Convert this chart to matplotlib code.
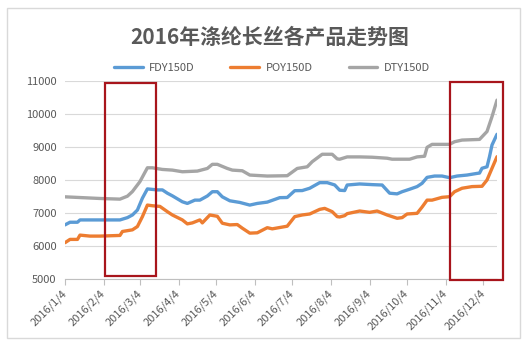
import numpy as np
import pandas as pd
import matplotlib
matplotlib.use("Agg")
import matplotlib.pyplot as plt
from matplotlib.patches import Rectangle

plt.rcParams["font.family"] = ["Noto Sans CJK SC", "DejaVu Sans"]

START = pd.Timestamp("2016-01-04")
END_DAY = 346

# prices (yuan/t), sampled at day offsets from 2016-01-04
fdy_days = [0, 4, 10, 12, 44, 50, 54, 58, 62, 66, 74, 78, 82, 86, 94, 98, 104, 108,
            114, 118, 122, 126, 132, 140, 148, 154, 162, 172, 178, 184, 190, 196,
            204, 210, 216, 220, 224, 226, 236, 246, 254, 260, 266, 270, 276, 282,
            286, 290, 296, 302, 308, 314, 322, 330, 332, 334, 338, 340, 342, 346]
fdy_vals = [6640, 6720, 6720, 6790, 6790, 6860, 6940, 7090, 7450, 7730, 7700, 7700,
            7600, 7520, 7340, 7290, 7390, 7390, 7515, 7645, 7645, 7490, 7370, 7320,
            7240, 7290, 7330, 7465, 7470, 7676, 7680, 7750, 7920, 7920, 7850, 7690,
            7680, 7848, 7880, 7860, 7848, 7600, 7580, 7645, 7720, 7800, 7900, 8080,
            8120, 8120, 8070, 8120, 8150, 8200, 8210, 8355, 8400, 8706, 9060, 9385]

poy_days = [0, 4, 10, 12, 20, 28, 44, 46, 54, 58, 62, 66, 70, 76, 82, 86, 94, 98,
            102, 108, 110, 116, 122, 126, 132, 138, 142, 148, 154, 162, 166, 172,
            178, 184, 190, 196, 204, 208, 214, 218, 220, 224, 226, 236, 244, 250,
            258, 266, 270, 274, 282, 286, 290, 294, 302, 308, 312, 318, 326, 334,
            338, 342, 346]
poy_vals = [6100, 6200, 6200, 6330, 6300, 6300, 6320, 6440, 6490, 6590, 6890, 7240,
            7220, 7200, 7040, 6940, 6790, 6670, 6700, 6790, 6700, 6940, 6900, 6690,
            6640, 6650, 6540, 6390, 6400, 6555, 6520, 6560, 6600, 6890, 6940, 6970,
            7110, 7140, 7040, 6890, 6880, 6920, 6980, 7060, 7020, 7060, 6940, 6840,
            6860, 6970, 6990, 7180, 7390, 7390, 7475, 7494, 7645, 7750, 7800, 7810,
            8000, 8355, 8706]

dty_days = [0, 28, 44, 50, 54, 60, 66, 70, 78, 86, 94, 106, 114, 118, 122, 130, 134,
            142, 148, 162, 178, 186, 194, 198, 206, 214, 218, 220, 226, 236, 246,
            258, 262, 276, 282, 288, 290, 294, 308, 312, 318, 332, 334, 338, 342, 346]
dty_vals = [7490, 7440, 7420, 7510, 7650, 7950, 8370, 8370, 8320, 8300, 8250, 8270,
            8350, 8475, 8475, 8350, 8300, 8280, 8150, 8120, 8130, 8350, 8400, 8555,
            8780, 8780, 8640, 8630, 8700, 8700, 8690, 8660, 8630, 8630, 8700, 8720,
            8990, 9080, 9080, 9160, 9210, 9230, 9310, 9470, 9920, 10420]

series = [
    ("FDY150D", fdy_days, fdy_vals, "#5B9BD5"),
    ("POY150D", poy_days, poy_vals, "#ED7D31"),
    ("DTY150D", dty_days, dty_vals, "#A5A5A5"),
]

month_ticks = pd.date_range("2016-01-04", periods=12, freq=pd.DateOffset(months=1))
month_labels = [f"2016/{m}/4" for m in range(1, 13)]
y_ticks = [5000, 6000, 7000, 8000, 9000, 10000, 11000]

# highlighted windows: (first day, last day, low, high)
boxes = [("2016-02-05", "2016-03-17", 5080, 10950),
         ("2016-11-07", "2016-12-20", 4970, 10960)]


def to_dates(days):
    return START + pd.to_timedelta(np.array(days), unit="D")


fig = plt.figure(figsize=(5.29, 3.5), dpi=100)
fig.patches.append(Rectangle((7 / 529, 12 / 350), 513 / 529, 330 / 350,
                             transform=fig.transFigure, fill=False,
                             edgecolor="#D9D9D9", lw=1))

ax = fig.add_axes([65 / 529, 71 / 350, 432 / 529, 198 / 350])

for name, d, v, c in series:
    ax.plot(to_dates(d), v, color=c, lw=2.4, label=name, solid_capstyle="round")

ax.set_xlim(START, START + pd.Timedelta(days=END_DAY))
ax.set_ylim(5000, 11000)
ax.set_yticks(y_ticks)
ax.set_yticklabels([str(t) for t in y_ticks])
ax.set_xticks(month_ticks)
ax.set_xticklabels(month_labels, rotation=45, ha="right", va="center",
                   rotation_mode="anchor")

ax.grid(axis="y", color="#D9D9D9", lw=0.8)
ax.set_axisbelow(True)
for s in ["top", "right", "left"]:
    ax.spines[s].set_visible(False)
ax.spines["bottom"].set_color("#BFBFBF")
ax.spines["bottom"].set_linewidth(0.8)
ax.tick_params(axis="y", length=0, pad=6, labelsize=8, labelcolor="#595959")
ax.tick_params(axis="x", length=4, width=0.8, color="#BFBFBF", pad=5,
               labelsize=8, labelcolor="#595959")

for x0, x1, lo, hi in boxes:
    a = pd.Timestamp(x0)
    b = pd.Timestamp(x1)
    ax.add_patch(Rectangle((a, lo), b - a, hi - lo, fill=False,
                           edgecolor="#A8151C", lw=1.6, clip_on=False, zorder=5))

fig.text(270 / 529, 1 - 37 / 350, "2016年涤纶长丝各产品走势图", ha="center",
         va="center", fontsize=15, fontweight="bold", color="#595959")

fig.legend(loc="center", bbox_to_anchor=(272 / 529, 1 - 68 / 350), ncol=3,
           frameon=False, fontsize=8, handlelength=2.6, handletextpad=0.6,
           columnspacing=3.2, labelcolor="#595959")

fig.savefig("out.png", dpi=100)
